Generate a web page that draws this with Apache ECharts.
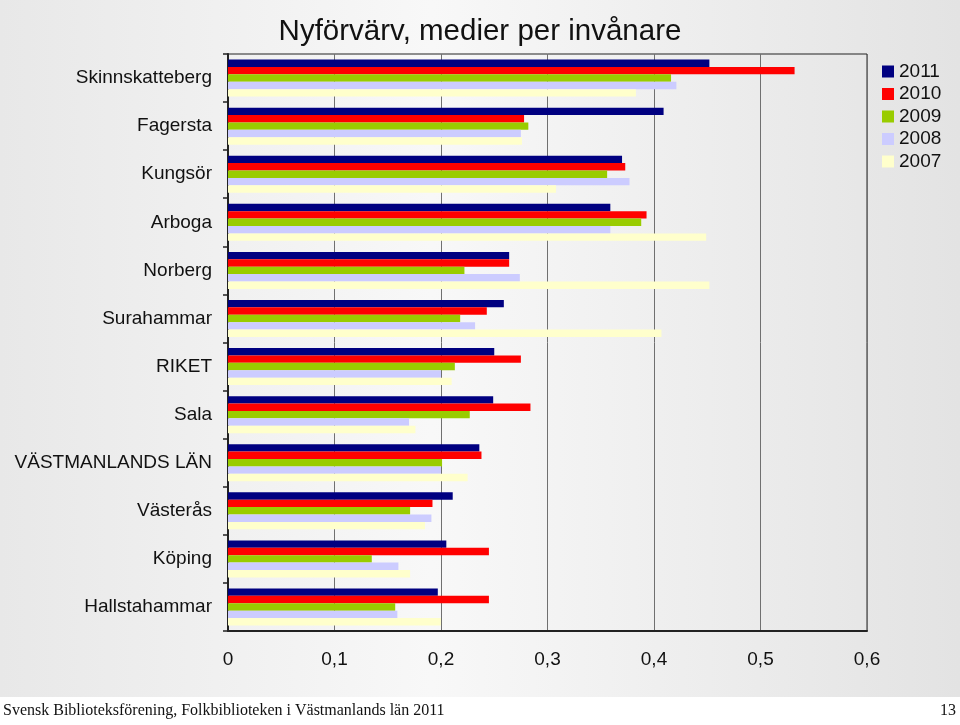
<!DOCTYPE html>
<html>
<head>
<meta charset="utf-8">
<script src="https://cdn.jsdelivr.net/npm/echarts@6/dist/echarts.min.js"></script>
<style>
  html, body { margin: 0; padding: 0; background: #fff; }
  #chart { width: 960px; height: 725px; }
</style>
</head>
<body>
<div id="chart"></div>
<script>
  // kommuner, uppifrån och ned
  var categories = ['Skinnskatteberg', 'Fagersta', 'Kungsör', 'Arboga', 'Norberg', 'Surahammar',
    'RIKET', 'Sala', 'VÄSTMANLANDS LÄN', 'Västerås', 'Köping', 'Hallstahammar']
  var years = ['2011', '2010', '2009', '2008', '2007']
  var v2011 = [0.452, 0.409, 0.370, 0.359, 0.264, 0.259, 0.250, 0.249, 0.236, 0.211, 0.205, 0.197]
  var v2010 = [0.532, 0.278, 0.373, 0.393, 0.264, 0.243, 0.275, 0.284, 0.238, 0.192, 0.245, 0.245]
  var v2009 = [0.416, 0.282, 0.356, 0.388, 0.222, 0.218, 0.213, 0.227, 0.201, 0.171, 0.135, 0.157]
  var v2008 = [0.421, 0.275, 0.377, 0.359, 0.274, 0.232, 0.200, 0.170, 0.200, 0.191, 0.160, 0.159]
  var v2007 = [0.383, 0.276, 0.308, 0.449, 0.452, 0.407, 0.210, 0.176, 0.225, 0.185, 0.171, 0.200]
  var xTicks = ['0', '0,1', '0,2', '0,3', '0,4', '0,5', '0,6']

  var colors = ['#000080', '#ff0000', '#99cc00', '#ccccff', '#ffffcc']
  var values = [v2011, v2010, v2009, v2008, v2007]
  var font = '"Liberation Sans", Arial, sans-serif'

  var chart = echarts.init(document.getElementById('chart'))
  chart.setOption({
    animation: false,
    backgroundColor: '#ffffff',
    color: colors,
    title: {
      text: 'Nyförvärv, medier per invånare',
      left: 'center',
      top: 12,
      textStyle: { fontFamily: font, fontSize: 29.5, fontWeight: 'normal', color: '#111' }
    },
    legend: {
      orient: 'vertical',
      left: 882,
      top: 62,
      padding: 0,
      icon: 'rect',
      itemWidth: 12,
      itemHeight: 12,
      itemGap: 3.5,
      textStyle: { fontFamily: font, fontSize: 19, color: '#111' },
      data: years
    },
    grid: {
      left: 228,
      right: 93,
      top: 54,
      bottom: 94,
      show: true,
      borderColor: '#222',
      borderWidth: 1,
      backgroundColor: 'transparent'
    },
    xAxis: {
      type: 'value',
      min: 0,
      max: 0.6,
      interval: 0.1,
      axisLine: { show: true, lineStyle: { color: '#222', width: 2 } },
      axisTick: { show: false },
      splitLine: { lineStyle: { color: '#707070', width: 1 } },
      axisLabel: {
        margin: 19,
        fontFamily: font,
        fontSize: 19,
        color: '#111',
        formatter: function (v) { return xTicks[Math.round(v * 10)] }
      }
    },
    yAxis: {
      type: 'category',
      inverse: true,
      data: categories,
      axisLine: { show: true, lineStyle: { color: '#222', width: 2 } },
      axisTick: { show: true, length: 5, lineStyle: { color: '#222', width: 1.5 } },
      axisLabel: { margin: 16, fontFamily: font, fontSize: 19, color: '#111' }
    },
    graphic: [
      {
        type: 'rect',
        z: -10,
        silent: true,
        shape: { x: 0, y: 0, width: 960, height: 697 },
        style: {
          fill: new echarts.graphic.LinearGradient(0, 0, 1, 0, [
            { offset: 0, color: '#e8e8e8' },
            { offset: 0.45, color: '#f8f8f8' },
            { offset: 1, color: '#e3e3e3' }
          ])
        }
      },
      {
        type: 'text',
        left: 3,
        top: 703,
        style: {
          text: 'Svensk Biblioteksförening, Folkbiblioteken i Västmanlands län 2011',
          font: '16px "Liberation Serif", "Times New Roman", serif',
          fill: '#111'
        }
      },
      {
        type: 'text',
        right: 4,
        top: 703,
        style: {
          text: '13',
          font: '16px "Liberation Serif", "Times New Roman", serif',
          fill: '#111'
        }
      }
    ],
    series: years.map(function (y, i) {
      return {
        name: y,
        type: 'bar',
        data: values[i],
        barWidth: 7.4,
        barGap: '0%',
        itemStyle: { color: colors[i] }
      }
    })
  })
</script>
</body>
</html>
